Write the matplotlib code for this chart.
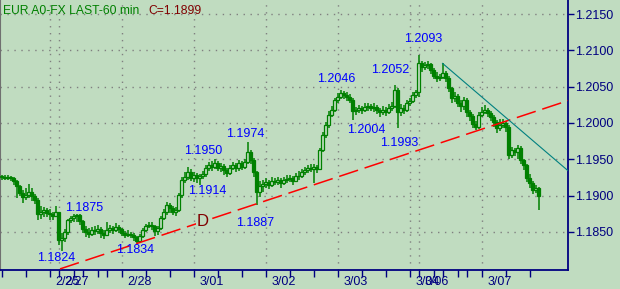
import matplotlib.pyplot as plt
import numpy as np

# DATA - hourly EUR bars, one value per bar
closes = [
    1.1926, 1.1924, 1.1926, 1.1924, 1.1920, 1.1913, 1.1904, 1.1898, 1.1901, 1.1905, 1.1899, 1.1894,
    1.1875, 1.1877, 1.1880, 1.1876, 1.1875, 1.1872, 1.1877, 1.1839, 1.1842, 1.1850, 1.1866, 1.1869,
    1.1872, 1.1873, 1.1865, 1.1854, 1.1850, 1.1847, 1.1853, 1.1851, 1.1854, 1.1848, 1.1846, 1.1853,
    1.1855, 1.1853, 1.1857, 1.1854, 1.1848, 1.1846, 1.1847, 1.1846, 1.1843, 1.1837, 1.1844, 1.1853,
    1.1858, 1.1860, 1.1858, 1.1851, 1.1855, 1.1869, 1.1877, 1.1887, 1.1883, 1.1877, 1.1880, 1.1901,
    1.1921, 1.1926, 1.1932, 1.1924, 1.1928, 1.1924, 1.1927, 1.1930, 1.1938, 1.1942, 1.1939, 1.1945,
    1.1938, 1.1941, 1.1935, 1.1931, 1.1938, 1.1942, 1.1938, 1.1945, 1.1939, 1.1946, 1.1960, 1.1949,
    1.1932, 1.1905, 1.1913, 1.1916, 1.1919, 1.1915, 1.1920, 1.1919, 1.1921, 1.1917, 1.1921, 1.1923,
    1.1924, 1.1920, 1.1927, 1.1927, 1.1932, 1.1935, 1.1938, 1.1937, 1.1939, 1.1937, 1.1963, 1.1983,
    1.1997, 1.2011, 1.2018, 1.2032, 1.2036, 1.2041, 1.2039, 1.2036, 1.2032, 1.2017, 1.2018, 1.2021,
    1.2018, 1.2022, 1.2023, 1.2021, 1.2022, 1.2018, 1.2015, 1.2018, 1.2015, 1.2021, 1.2023, 1.2045,
    1.2015, 1.2021, 1.2018, 1.2028, 1.2030, 1.2039, 1.2043, 1.2082, 1.2077, 1.2080, 1.2081, 1.2073,
    1.2065, 1.2062, 1.2063, 1.2069, 1.2062, 1.2048, 1.2034, 1.2037, 1.2028, 1.2023, 1.2032, 1.2015,
    1.2010, 1.1999, 1.1994, 1.2011, 1.2015, 1.2018, 1.2014, 1.2008, 1.2001, 1.1993, 1.1997, 1.2000,
    1.1994, 1.1956, 1.1963, 1.1960, 1.1966, 1.1949, 1.1942, 1.1924, 1.1917, 1.1908, 1.1910, 1.1899,
]
highs = [
    1.1929, 1.1928, 1.1929, 1.1927, 1.1926, 1.1922, 1.1915, 1.1908, 1.1910, 1.1916, 1.1911, 1.1902,
    1.1897, 1.1886, 1.1884, 1.1883, 1.1881, 1.1878, 1.1886, 1.1878, 1.1848, 1.1854, 1.1868, 1.1872,
    1.1875, 1.1875, 1.1874, 1.1866, 1.1858, 1.1856, 1.1857, 1.1858, 1.1860, 1.1857, 1.1852, 1.1863,
    1.1859, 1.1858, 1.1862, 1.1860, 1.1856, 1.1851, 1.1852, 1.1850, 1.1848, 1.1845, 1.1847, 1.1856,
    1.1861, 1.1864, 1.1863, 1.1860, 1.1858, 1.1872, 1.1882, 1.1891, 1.1890, 1.1886, 1.1884, 1.1904,
    1.1925, 1.1933, 1.1940, 1.1936, 1.1932, 1.1931, 1.1930, 1.1934, 1.1942, 1.1946, 1.1947, 1.1950,
    1.1948, 1.1945, 1.1944, 1.1938, 1.1942, 1.1946, 1.1945, 1.1949, 1.1948, 1.1951, 1.1974, 1.1963,
    1.1952, 1.1934, 1.1920, 1.1922, 1.1924, 1.1922, 1.1925, 1.1924, 1.1925, 1.1924, 1.1926, 1.1928,
    1.1929, 1.1927, 1.1931, 1.1934, 1.1936, 1.1940, 1.1942, 1.1943, 1.1944, 1.1942, 1.1966, 1.1987,
    1.2001, 1.2016, 1.2023, 1.2035, 1.2041, 1.2046, 1.2044, 1.2043, 1.2040, 1.2034, 1.2022, 1.2025,
    1.2024, 1.2027, 1.2028, 1.2026, 1.2027, 1.2025, 1.2021, 1.2024, 1.2022, 1.2026, 1.2029, 1.2052,
    1.2048, 1.2026, 1.2025, 1.2032, 1.2035, 1.2042, 1.2046, 1.2093, 1.2085, 1.2084, 1.2085, 1.2083,
    1.2076, 1.2070, 1.2068, 1.2082, 1.2072, 1.2064, 1.2050, 1.2043, 1.2040, 1.2031, 1.2036, 1.2035,
    1.2018, 1.2012, 1.2003, 1.2015, 1.2022, 1.2025, 1.2021, 1.2017, 1.2011, 1.2004, 1.2005, 1.2006,
    1.2003, 1.1997, 1.1967, 1.1966, 1.1970, 1.1968, 1.1951, 1.1944, 1.1930, 1.1920, 1.1915, 1.1912,
]
lows = [
    1.1922, 1.1921, 1.1922, 1.1920, 1.1915, 1.1896, 1.1899, 1.1890, 1.1894, 1.1897, 1.1893, 1.1889,
    1.1866, 1.1868, 1.1870, 1.1871, 1.1867, 1.1866, 1.1870, 1.1832, 1.1824, 1.1836, 1.1846, 1.1862,
    1.1864, 1.1863, 1.1860, 1.1848, 1.1843, 1.1842, 1.1845, 1.1846, 1.1847, 1.1842, 1.1840, 1.1844,
    1.1849, 1.1847, 1.1850, 1.1848, 1.1844, 1.1842, 1.1843, 1.1841, 1.1838, 1.1834, 1.1835, 1.1842,
    1.1850, 1.1855, 1.1853, 1.1845, 1.1846, 1.1853, 1.1866, 1.1873, 1.1876, 1.1873, 1.1872, 1.1877,
    1.1897, 1.1917, 1.1922, 1.1920, 1.1918, 1.1917, 1.1914, 1.1923, 1.1926, 1.1934, 1.1934, 1.1936,
    1.1934, 1.1933, 1.1929, 1.1925, 1.1928, 1.1935, 1.1932, 1.1934, 1.1935, 1.1936, 1.1943, 1.1944,
    1.1925, 1.1887, 1.1898, 1.1905, 1.1910, 1.1909, 1.1912, 1.1914, 1.1915, 1.1911, 1.1914, 1.1917,
    1.1919, 1.1915, 1.1918, 1.1922, 1.1924, 1.1928, 1.1931, 1.1932, 1.1917, 1.1931, 1.1935, 1.1960,
    1.1979, 1.1993, 1.2008, 1.2015, 1.2028, 1.2033, 1.2033, 1.2030, 1.2027, 1.2004, 1.2011, 1.2014,
    1.2012, 1.2015, 1.2017, 1.2016, 1.2015, 1.2012, 1.2008, 1.2011, 1.2009, 1.2012, 1.2017, 1.2020,
    1.1993, 1.2010, 1.2012, 1.2015, 1.2024, 1.2027, 1.2035, 1.2036, 1.2070, 1.2073, 1.2074, 1.2067,
    1.2060, 1.2057, 1.2058, 1.2060, 1.2056, 1.2043, 1.2028, 1.2029, 1.2022, 1.2015, 1.2018, 1.2008,
    1.2003, 1.1993, 1.1990, 1.1991, 1.2008, 1.2012, 1.2008, 1.2002, 1.1995, 1.1986, 1.1989, 1.1993,
    1.1988, 1.1950, 1.1952, 1.1954, 1.1950, 1.1943, 1.1935, 1.1918, 1.1910, 1.1902, 1.1903, 1.1880,
]
opens = [closes[0]] + closes[:-1]

# session days: label and first bar of the day
day_labels = ['2/25', '2/27', '2/28', '3/01', '3/02', '3/03', '3/04', '3/06', '3/07']
day_starts = [16, 19, 40, 64, 88, 112, 136, 139, 160]

price_ticks = [1.1850, 1.1900, 1.1950, 1.2000, 1.2050, 1.2100, 1.2150]

# pivot labels (bar index, which extreme)
pivot_bars = [20, 24, 45, 66, 71, 82, 85, 113, 117, 131, 132, 139]
pivot_kind = ['low', 'high', 'low', 'low', 'high', 'high', 'low', 'high', 'low', 'high', 'low', 'high']

# drawn lines: support trend (red) and resistance (teal), two anchor points each
trend_bars = [19.5, 189]
trend_prices = [1.1799, 1.2031]
resist_bars = [147, 190]
resist_prices = [1.2082, 1.1930]
d_bar = 67

bg = '#c0dcc0'
green = '#008000'
navy = '#000080'
plt.rcParams['font.family'] = ['Liberation Sans', 'DejaVu Sans']

fig = plt.figure(figsize=(6.2, 2.89), dpi=100, facecolor=bg)
ax = fig.add_axes([0.0, 19 / 289, 568 / 620, 270 / 289], facecolor=bg)

x = np.arange(len(closes))
o = np.array(opens)
c = np.array(closes)
up = c >= o

# candles: wicks, then bodies (hollow up, filled down)
ax.vlines(x, lows, highs, color=green, linewidth=1.1, zorder=3)
body_low = np.minimum(o, c)
body_h = np.maximum(np.abs(c - o), 0.00006)
ax.bar(x, body_h, bottom=body_low, width=0.85,
       color=np.where(up, bg, green), edgecolor=green, linewidth=0.9, zorder=4)

ax.set_xlim(-0.5, 188.8)
ax.set_ylim(1.17975, 1.21693)

# grid
for d in day_starts:
    ax.axvline(d + 0.25, color='#808080', linestyle=(0, (1, 4)), linewidth=1.0, zorder=1)
for p in price_ticks:
    ax.axhline(p, color='#808080', linestyle=(0, (1, 4)), linewidth=1.0, zorder=1)

# trend lines
ax.plot(trend_bars, trend_prices, color='#ff0000', linewidth=1.1,
        dashes=(13, 4.5), zorder=5, clip_on=True)
ax.plot(resist_bars, resist_prices, color='#008080', linewidth=0.8, zorder=5)
ax.text(d_bar, np.interp(d_bar, trend_bars, trend_prices), 'D', color='#800000',
        fontsize=12, ha='center', va='center', zorder=6,
        bbox=dict(facecolor=bg, edgecolor='none', pad=0.5))

# pivot value labels
label_offsets = [(-5.5, -7.3), (10.5, 5.7), (-1.5, -6.5), (7.5, -5.6), (-11.5, 8), (-2.5, 7.8),
                 (-1.5, -18), (-4.5, 10.5), (13.5, -9.5), (-4.5, 15.2), (1.5, -15), (4.5, 16.4)]
for b, k, off in zip(pivot_bars, pivot_kind, label_offsets):
    val = highs[b] if k == 'high' else lows[b]
    ax.annotate(f'{val:.4f}', xy=(b, val), xytext=off, textcoords='offset pixels',
                ha='center', va='center', color='#0000ff', fontsize=9, zorder=7)

# axes styling
ax.spines['top'].set_visible(False)
ax.spines['left'].set_color('#707070')
ax.spines['right'].set_color(navy)
ax.spines['right'].set_linewidth(1.3)
ax.spines['bottom'].set_color(navy)
ax.spines['bottom'].set_linewidth(1.3)

ax.yaxis.tick_right()
ax.set_yticks(price_ticks)
ax.set_yticklabels([f'{p:.4f}' for p in price_ticks])
ax.tick_params(axis='y', colors=navy, labelcolor=navy, length=4, width=1, pad=1, labelsize=9)

minor = [0, 8]
for d in day_starts:
    minor += [d + 8, d + 16]
ax.set_xticks([d + 0.25 for d in day_starts])
ax.set_xticklabels([])
ax.set_xticks(minor, minor=True)
ax.tick_params(axis='x', which='both', colors=navy, length=5, width=1)
for d, lab in zip(day_starts, day_labels):
    ax.annotate(lab, xy=(d + 0.25, 0), xycoords=('data', 'axes fraction'),
                xytext=(5, -12), textcoords='offset pixels',
                ha='left', va='center', color=navy, fontsize=9, annotation_clip=False)

# header
fig.text(3 / 620, 1 - 11 / 289, 'EUR A0-FX LAST-60 min', color=green, fontsize=8.7, va='center')
fig.text(148 / 620, 1 - 11 / 289, f'C={closes[-1]:.4f}', color='#800000', fontsize=8.7, va='center')

plt.savefig('out.png', dpi=100, facecolor=bg)
